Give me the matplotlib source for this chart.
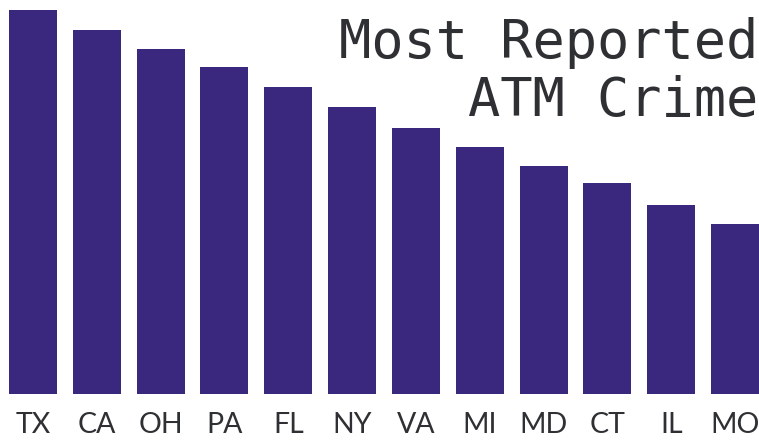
import matplotlib
matplotlib.use("Agg")
import matplotlib.pyplot as plt

# Data
states = ["TX", "CA", "OH", "PA", "FL", "NY", "VA", "MI", "MD", "CT", "IL", "MO"]
reports = [384, 364, 345, 327, 307, 287, 266, 247, 228, 211, 189, 170]

bar_color = "#39287d"
text_color = "#2e3033"

fig = plt.figure(figsize=(7.59, 4.43), dpi=100)
ax = fig.add_axes([9 / 759, 49 / 443, 750 / 759, 384 / 443])

x = range(len(states))
ax.bar(x, reports, width=0.75, color=bar_color)
ax.set_xlim(-0.375, len(states) - 1 + 0.375)
ax.set_ylim(0, max(reports))

ax.set_xticks(list(x))
ax.set_xticklabels(states, fontsize=20.5, color=text_color, family="Lato")
ax.tick_params(axis="x", length=0, pad=13)
ax.set_yticks([])
for s in ax.spines.values():
    s.set_visible(False)

fig.text(0.999, 0.962, "Most Reported\nATM Crime", ha="right", va="top",
         fontsize=38.6, family="DejaVu Sans Mono", color=text_color,
         linespacing=1.15)

fig.savefig("out.png", dpi=100)
